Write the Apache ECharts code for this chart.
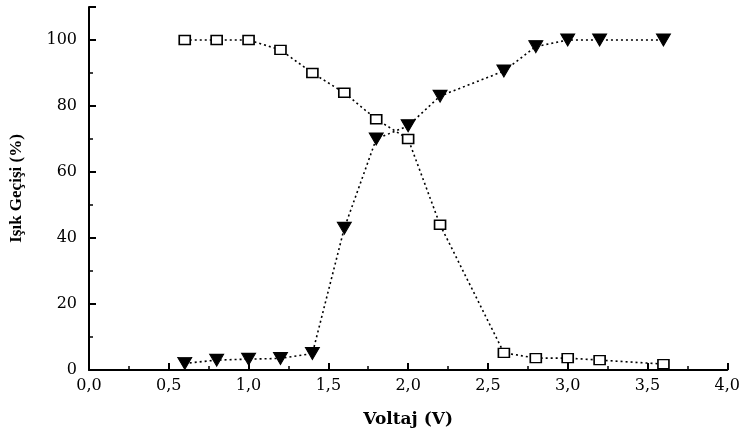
<!DOCTYPE html>
<html>
<head>
<meta charset="utf-8">
<script src="https://cdn.jsdelivr.net/npm/echarts@6/dist/echarts.min.js"></script>
<style>
  html, body { margin: 0; padding: 0; background: #fff; }
  #chart { width: 743px; height: 437px; }
</style>
</head>
<body>
<div id="chart"></div>
<script>
// voltage steps (V)
const voltaj = [0.6, 0.8, 1.0, 1.2, 1.4, 1.6, 1.8, 2.0, 2.2, 2.6, 2.8, 3.0, 3.2, 3.6]
// open squares
const kareSeri = [100, 100, 100, 97, 90, 84, 76, 70, 44, 5.2, 3.6, 3.6, 3, 1.8]
// filled down triangles
const ucgenSeri = [2, 3, 3.3, 3.5, 5, 43, 70, 74, 83, 90.6, 98, 100, 100, 100]

const tickFont = 'DejaVu Serif'
const titleFont = 'Liberation Serif'

const pairs = (ys) => voltaj.map((x, i) => [x, ys[i]])

const myChart = echarts.init(document.getElementById('chart'))

const axisCommon = {
  axisLine: { show: true, lineStyle: { color: '#000', width: 2 } },
  axisTick: { show: true, inside: true, length: 7, lineStyle: { color: '#000', width: 2 } },
  minorTick: { show: true, splitNumber: 2, length: 4, lineStyle: { color: '#000', width: 1.5 } },
  splitLine: { show: false }
}

const option = {
  backgroundColor: '#fff',
  animation: false,
  grid: { left: 88, right: 8, top: 7, bottom: 67 },
  xAxis: {
    ...axisCommon,
    type: 'value',
    min: 0,
    max: 4,
    interval: 0.5,
    name: 'Voltaj (V)',
    nameLocation: 'middle',
    nameGap: 41,
    nameTextStyle: { fontFamily: tickFont, fontWeight: 'bold', fontSize: 17, color: '#000' },
    axisLabel: {
      color: '#000',
      fontFamily: tickFont,
      fontSize: 16,
      margin: 8,
      formatter: (v) => v.toFixed(1).replace('.', ',')
    }
  },
  yAxis: {
    ...axisCommon,
    type: 'value',
    min: 0,
    max: 110,
    interval: 20,
    name: 'Işık Geçişi (%)',
    nameLocation: 'middle',
    nameGap: 64,
    nameTextStyle: { fontFamily: titleFont, fontWeight: 'bold', fontSize: 17, color: '#000' },
    axisLabel: {
      color: '#000',
      fontFamily: tickFont,
      fontSize: 16,
      margin: 12,
      formatter: (v) => (v > 100 ? '' : String(v))
    }
  },
  series: [
    {
      type: 'line',
      data: pairs(kareSeri),
      symbol: 'rect',
      symbolSize: [11, 9],
      itemStyle: { color: '#fff', borderColor: '#000', borderWidth: 1.5 },
      lineStyle: { color: '#000', width: 1.6, type: [2, 3] }
    },
    {
      type: 'line',
      data: pairs(ucgenSeri),
      symbol: 'triangle',
      symbolRotate: 180,
      symbolSize: [14, 12],
      itemStyle: { color: '#000', borderColor: '#000' },
      lineStyle: { color: '#000', width: 1.6, type: [2, 3] }
    }
  ]
}

option && myChart.setOption(option)
</script>
</body>
</html>
